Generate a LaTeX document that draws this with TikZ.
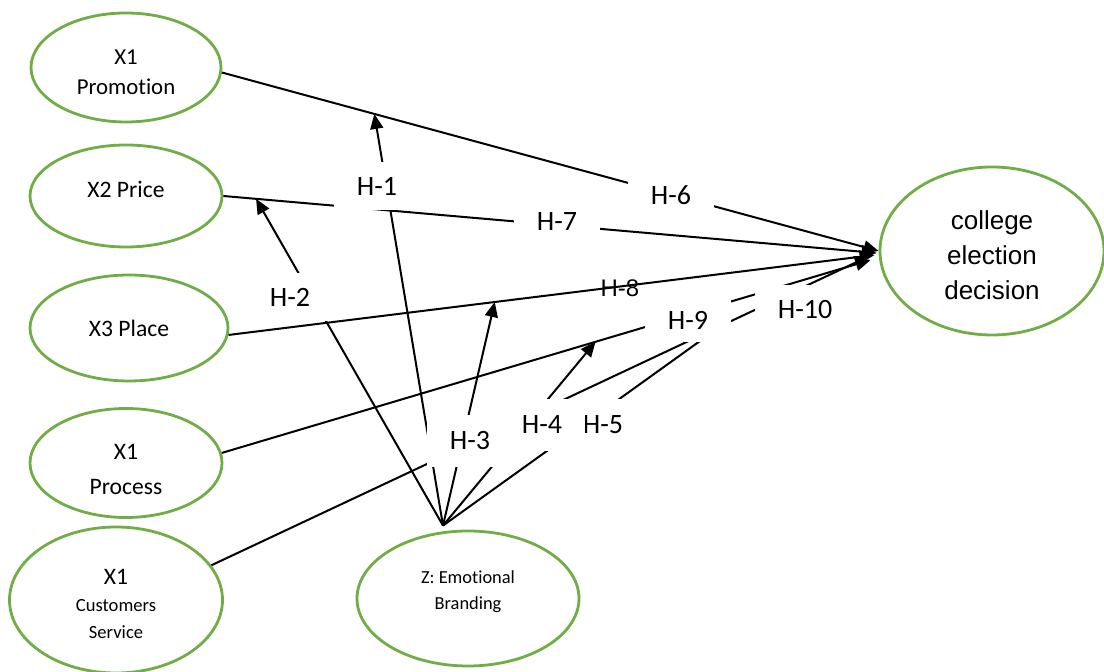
\documentclass[tikz,border=0pt]{standalone}
\usepackage{fontspec}
\setmainfont{Carlito}[Ligatures=NoCommon]
\newfontfamily\arialfont{Liberation Sans}
\usepackage{tikz}
\usetikzlibrary{arrows.meta,shapes.geometric,calc}
\definecolor{OfficeGreen}{RGB}{112,173,71}

\begin{document}
\begin{tikzpicture}[x=0.5pt, y=-0.5pt,
	var/.style={ellipse, draw=OfficeGreen, line width=1.4pt, inner sep=0pt, align=center},
	hyp/.style={fill=white, inner sep=0pt, minimum width=43pt, minimum height=24pt, font=\fontsize{14}{16}\selectfont},
	effect/.style={line width=1pt, -{Triangle[length=7.5pt,width=6.5pt]}}]
	\useasboundingbox (0,0) rectangle (1104,672);

	% independent variables
	\node[var, minimum width=95pt, minimum height=54.5pt, font=\fontsize{11.4}{15}\selectfont] (promo) at (126,67.5) {\rule{0pt}{12.5pt}X1\\Promotion};
	\node[var, minimum width=96pt, minimum height=51pt, font=\fontsize{11.8}{15}\selectfont] (price) at (126,196) {X2 Price\rule[-7pt]{0pt}{0pt}};
	\node[var, minimum width=99pt, minimum height=53pt, font=\fontsize{11.8}{15}\selectfont] (place) at (129,328) {X3 Place};
	\node[var, minimum width=96pt, minimum height=54.5pt, font=\fontsize{11.8}{17.5}\selectfont] (process) at (126,463) {\rule{0pt}{14.5pt}X1\\Process};
	\node[var, minimum width=106.5pt, minimum height=73pt, font=\fontsize{9.3}{13.5}\selectfont] (cust) at (116,600) {{\fontsize{11.8}{14}\selectfont\rule{0pt}{11.6pt}X1}\\Customers\\Service};

	% moderator and dependent variable
	\node[var, minimum width=111pt, minimum height=67.5pt, font=\fontsize{9.2}{13}\selectfont] (zb) at (468,598.5) {Z: Emotional\\Branding\rule[-8pt]{0pt}{0pt}};
	\node[var, minimum width=112pt, minimum height=84pt, font=\arialfont\fontsize{13}{17.5}\selectfont] (coll) at (992,251) {\rule{0pt}{13.5pt}college\\election\\decision};

	% arrow ends at the decision
	\coordinate (in6) at (coll.west);
	\coordinate (in7) at ($(coll.west)+(-2,2)$);
	\coordinate (in8) at ($(coll.west)+(-4,4)$);
	\coordinate (in9) at ($(coll.west)+(-8,9)$);
	\coordinate (in10) at ($(coll.west)+(-9,5)$);

	% moderation points on the paths
	\coordinate (zapex) at ($(zb.north)+(-25,-4)$);
	\coordinate (m1) at ($(promo.-3)!0.232!(in6)$);
	\coordinate (m2) at ($(price.east)!0.05!(in7)$);
	\coordinate (m3) at ($(place.-4)!0.412!(in8)$);
	\coordinate (m4) at ($(process.6)!0.576!(in9)$);
	\coordinate (m5) at ($(cust.20)!0.775!(in10)$);

	% direct paths
	\draw[effect] (promo.-3) -- (in6);
	\draw[effect] (price.east) -- (in7);
	\draw[effect] (place.-4) -- (in8);
	\draw[effect] (process.6) -- (in9);
	\draw[effect] (cust.20) -- (in10);

	% moderating paths from Z
	\draw[effect] (zapex) -- (m1);
	\draw[effect] (zapex) -- (m2);
	\draw[effect] (zapex) -- (m3);
	\draw[effect] (zapex) -- (m4);
	\draw[effect] (zapex) -- (m5);

	% hypothesis labels
	\node[hyp] (h1) at (377,186) {H-1};
	\node[hyp] (h2) at (290,297) {H-2};
	\node[hyp, minimum height=26pt] (h3) at (470,441) {H-3};
	\node[hyp, minimum height=26pt] (h5) at (603,425) {H-5};
	\node[hyp, minimum height=26pt] (h4) at (542,425) {H-4};
	\node[hyp] (h6) at (671,195) {H-6};
	\node[hyp] (h7) at (557,222) {H-7};
	\node[font=\arialfont\fontsize{12}{14}\selectfont] (h8) at (620,288) {H-8};
	\node[hyp, minimum height=22pt] (h9) at (688,320) {H-9};
	\node[hyp, minimum width=50pt, minimum height=25pt] (h10) at (805,310) {H-10};
\end{tikzpicture}
\end{document}
